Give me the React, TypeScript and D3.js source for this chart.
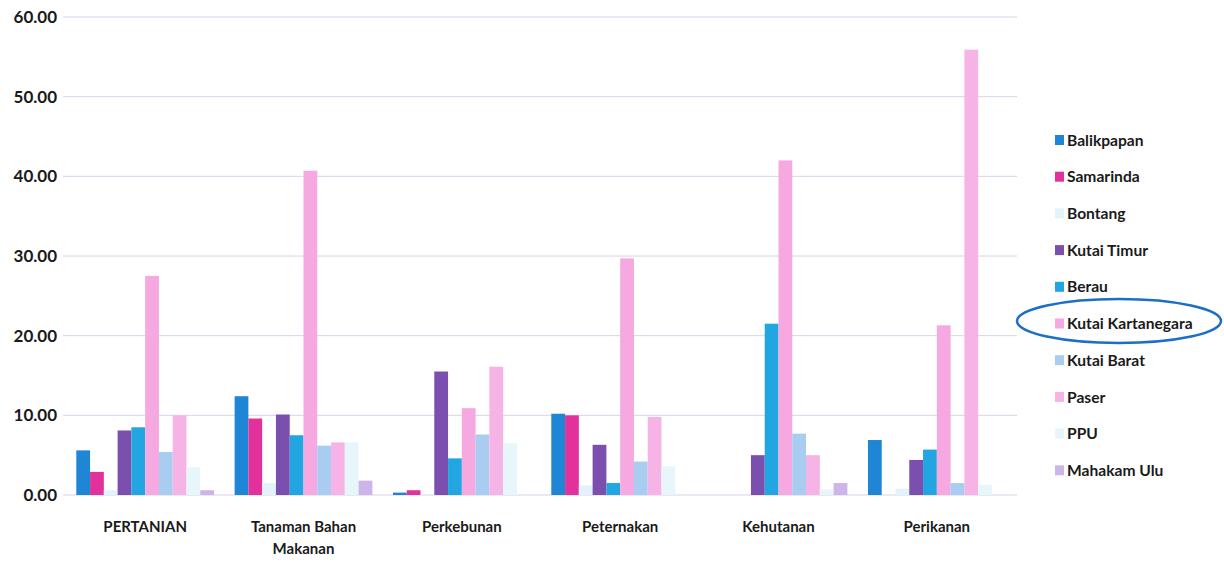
import React from "react";
import { scaleBand, scaleLinear } from "d3";

const categories = ["PERTANIAN", "Tanaman Bahan Makanan", "Perkebunan", "Peternakan", "Kehutanan", "Perikanan"];
const categoryLines = [["PERTANIAN"], ["Tanaman Bahan", "Makanan"], ["Perkebunan"], ["Peternakan"], ["Kehutanan"], ["Perikanan"]];

const series = [
  "Balikpapan",
  "Samarinda",
  "Bontang",
  "Kutai Timur",
  "Berau",
  "Kutai Kartanegara",
  "Kutai Barat",
  "Paser",
  "PPU",
  "Mahakam Ulu",
];

// one array per region, values in category order
const balikpapan = [5.6, 12.4, 0.3, 10.2, 0, 6.9];
const samarinda = [2.9, 9.6, 0.6, 10.0, 0, 0];
const bontang = [0.6, 1.5, 0, 1.2, 0, 0.8];
const kutaiTimur = [8.1, 10.1, 15.5, 6.3, 5.0, 4.4];
const berau = [8.5, 7.5, 4.6, 1.5, 21.5, 5.7];
const kutaiKartanegara = [27.5, 40.7, 10.9, 29.7, 42.0, 21.3];
const kutaiBarat = [5.4, 6.2, 7.6, 4.2, 7.7, 1.5];
const paser = [10.0, 6.6, 16.1, 9.8, 5.0, 55.9];
const ppu = [3.5, 6.6, 6.5, 3.6, 0.7, 1.3];
const mahakamUlu = [0.6, 1.8, 0, 0, 1.5, 0];

const values = [balikpapan, samarinda, bontang, kutaiTimur, berau, kutaiKartanegara, kutaiBarat, paser, ppu, mahakamUlu];

const colors = [
  "#1f86d6",
  "#e2319a",
  "#e2f3fb",
  "#7b4fae",
  "#22a6e2",
  "#f5a9e0",
  "#a9cdf1",
  "#f6b4e6",
  "#e6f6fb",
  "#cdb4e9",
];

const yTicks = [0, 10, 20, 30, 40, 50, 60];

const width = 1224;
const height = 563;
const font = "Lato, 'Open Sans', sans-serif";

export default function App() {
  const x0 = scaleBand<string>()
    .domain(categories)
    .range([66, 1016])
    .paddingInner(0.13)
    .paddingOuter(0.065);
  const x1 = scaleBand<string>().domain(series).range([0, x0.bandwidth()]);
  const y = scaleLinear().domain([0, 60]).range([495, 17]);

  return (
    <div style={{ position: "absolute", left: 0, top: 0 }}>
      <svg width={width} height={height} style={{ display: "block", background: "#fff" }}>
        {yTicks.map((t) => (
          <g key={t} transform={`translate(0,${y(t)})`}>
            <line x1={63} x2={1017} stroke="#d6d4e8" strokeWidth={1} />
            <text
              x={57}
              dy="0.35em"
              textAnchor="end"
              fontFamily={font}
              fontSize={17}
              fontWeight={700}
              fill="#1a1a1a"
            >
              {t.toFixed(2)}
            </text>
          </g>
        ))}

        {categories.map((c, ci) => (
          <g key={c} transform={`translate(${x0(c)},0)`}>
            {series.map((s, si) => {
              const v = values[si][ci];
              return (
                <rect
                  key={s}
                  x={x1(s)}
                  y={y(v)}
                  width={x1.bandwidth()}
                  height={y(0) - y(v)}
                  fill={colors[si]}
                />
              );
            })}
            {categoryLines[ci].map((line, li) => (
              <text
                key={li}
                x={x0.bandwidth() / 2}
                y={532 + li * 22}
                textAnchor="middle"
                fontFamily={font}
                fontSize={15}
                fontWeight={700}
                fill="#1a1a1a"
              >
                {line}
              </text>
            ))}
          </g>
        ))}

        {series.map((s, i) => {
          const ly = 141 + i * 36.7;
          return (
            <g key={s} transform={`translate(1055,${ly})`}>
              <rect x={0} y={-6} width={9} height={10} fill={colors[i]} />
              <text x={12} dy="0.3em" fontFamily={font} fontSize={15.6} fontWeight={700} fill="#1a1a1a">
                {s}
              </text>
            </g>
          );
        })}

        <ellipse cx={1119} cy={321} rx={102} ry={22} fill="none" stroke="#1c6fc6" strokeWidth={2.5} />
      </svg>
    </div>
  );
}
